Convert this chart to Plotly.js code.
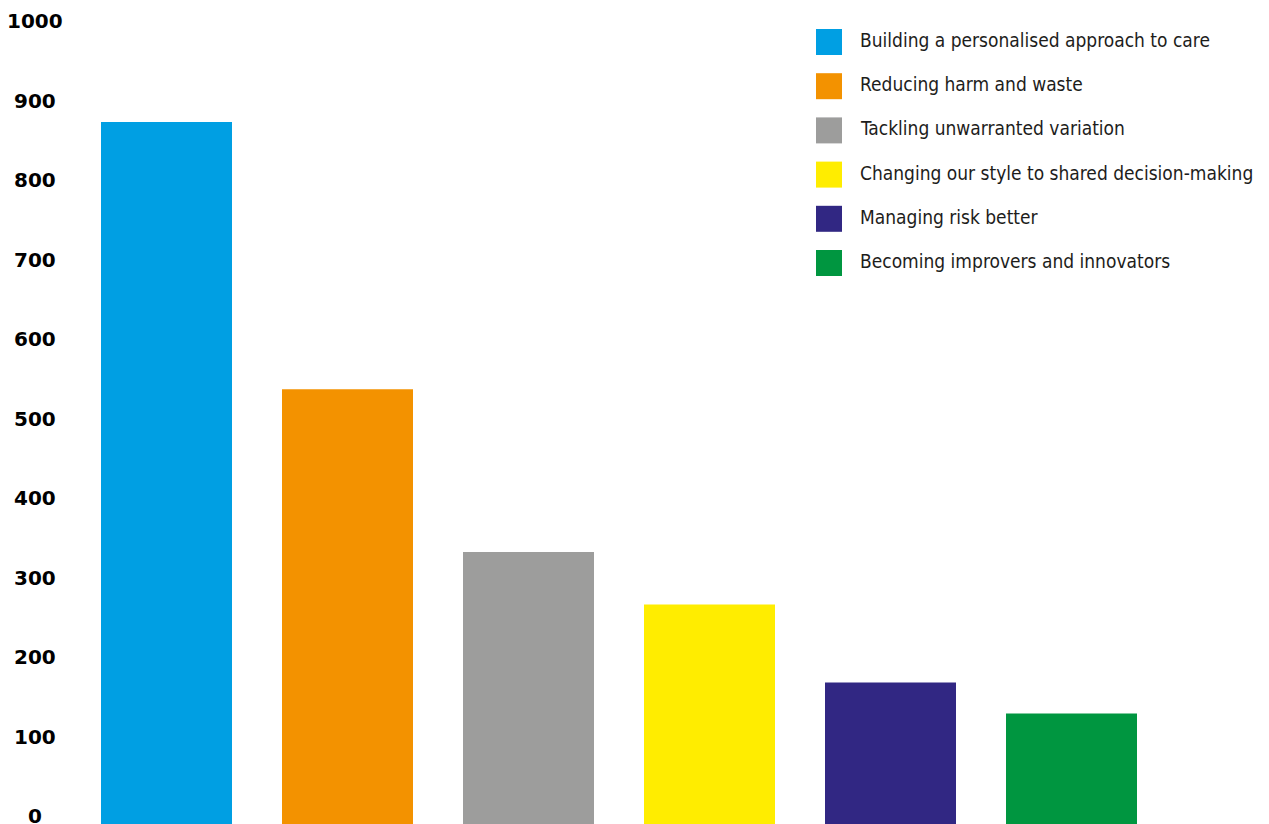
<!DOCTYPE html>
<html>
<head>
<meta charset="utf-8">
<script src="https://cdn.plot.ly/plotly-3.0.1.min.js"></script>
<style>
  html, body { margin: 0; padding: 0; background: #ffffff; }
  #chart { width: 1269px; height: 824px; }
</style>
</head>
<body>
<div id="chart"></div>
<script>
const categories = [
  "Building a personalised approach to care",
  "Reducing harm and waste",
  "Tackling unwarranted variation",
  "Changing our style to shared decision-making",
  "Managing risk better",
  "Becoming improvers and innovators"
];
const values = [883, 547, 342, 276, 178, 139];
const colors = ["#009FE3", "#F39200", "#9D9D9C", "#FFED00", "#312783", "#009640"];
const yTicks = [0, 100, 200, 300, 400, 500, 600, 700, 800, 900, 1000];

const W = 1269, H = 824;
const M = { l: 76, r: 107, t: 29, b: 0 };
const plotW = W - M.l - M.r;
const plotH = H - M.t - M.b;
const px2paperX = px => (px - M.l) / plotW;
const px2paperY = py => (H - M.b - py) / plotH;

const trace = {
  type: "bar",
  x: categories,
  y: values,
  marker: { color: colors, line: { width: 0 } },
  showlegend: false,
  hoverinfo: "x+y"
};

const annotations = [];
const shapes = [];

// y tick labels (centered), positioned through the y-axis scale
yTicks.forEach(t => {
  annotations.push({
    xref: "paper", yref: "y",
    x: px2paperX(35), y: t, yshift: 8,
    xanchor: "center", yanchor: "middle",
    showarrow: false,
    text: String(t),
    font: { family: "DejaVu Sans", size: 20, color: "#000000", weight: "bold" }
  });
});

// legend
categories.forEach((c, i) => {
  const yc = 42 + i * 44.2;
  shapes.push({
    type: "rect", xref: "paper", yref: "paper",
    x0: px2paperX(816), x1: px2paperX(842),
    y0: px2paperY(yc + 13), y1: px2paperY(yc - 13),
    fillcolor: colors[i], line: { width: 0 }
  });
  annotations.push({
    xref: "paper", yref: "paper",
    x: px2paperX(858), y: px2paperY(yc - 2),
    xanchor: "left", yanchor: "middle",
    showarrow: false,
    text: c,
    font: { family: "DejaVu Sans Condensed, sans-serif", size: 19, color: "#1d1d1b" }
  });
});

const layout = {
  width: W, height: H,
  margin: M,
  paper_bgcolor: "#ffffff",
  plot_bgcolor: "#ffffff",
  bargap: 50 / 181,
  xaxis: {
    type: "category",
    showticklabels: false, showgrid: false, zeroline: false, showline: false, ticks: ""
  },
  yaxis: {
    range: [0, 1000],
    showticklabels: false, showgrid: false, zeroline: false, showline: false, ticks: ""
  },
  annotations: annotations,
  shapes: shapes,
  showlegend: false
};

Plotly.newPlot("chart", [trace], layout, { displayModeBar: false, responsive: false });
</script>
</body>
</html>
